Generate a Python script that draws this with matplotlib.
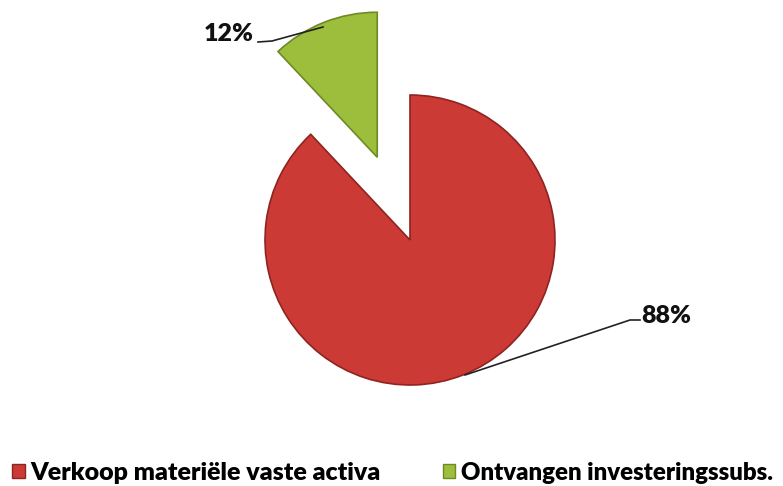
import matplotlib.pyplot as plt
from matplotlib.patches import Patch

# data
labels = ['Verkoop materiële vaste activa', 'Ontvangen investeringssubs.']
shares = [88, 12]
colors = ['#CC3A35', '#9DBE3C']
edge_colors = ['#8E2421', '#6E8A25']
pct_text = ['88%', '12%']

fig = plt.figure(figsize=(7.83, 4.86), dpi=100)
ax = fig.add_axes([0, 0, 1, 1])

# pixel-like coordinates: center of the pie at (410, 240) px from top
cx, cy, r = 410, 486 - 240, 145
wedges, _ = ax.pie(shares, colors=colors, startangle=90, counterclock=False,
                   explode=[0, 89], radius=r, center=(cx, cy),
                   wedgeprops=dict(linewidth=1.2))
for w, ec in zip(wedges, edge_colors):
    w.set_edgecolor(ec)

ax.set_xlim(0, 783)
ax.set_ylim(0, 486)
ax.set_aspect('equal')
ax.axis('off')

font = ['Lato', 'DejaVu Sans']

# leader lines and percentage labels
ax.plot([465, 630, 640], [486 - 375, 486 - 320, 486 - 320], color='#222222', lw=1.2)
ax.text(641, 486 - 316, pct_text[0], fontsize=18, fontweight='heavy', family=font,
        ha='left', va='center', color='#111111')
ax.plot([323, 272, 258], [486 - 27, 486 - 41, 486 - 42], color='#222222', lw=1.2)
ax.text(254, 486 - 34, pct_text[1], fontsize=18, fontweight='heavy', family=font,
        ha='right', va='center', color='#111111')

handles = [Patch(facecolor=c, edgecolor=e) for c, e in zip(colors, edge_colors)]
leg = ax.legend(handles, labels, loc='lower left', bbox_to_anchor=(0.0, -0.02),
                ncol=2, frameon=False, handlelength=0.5, handleheight=0.5,
                handletextpad=0.22, columnspacing=2.5, borderaxespad=0.18,
                borderpad=0.3, prop=dict(family=font, weight='heavy', size=18))
leg.get_texts()[1].set_fontsize(17.3)

fig.savefig('out.png', dpi=100)
